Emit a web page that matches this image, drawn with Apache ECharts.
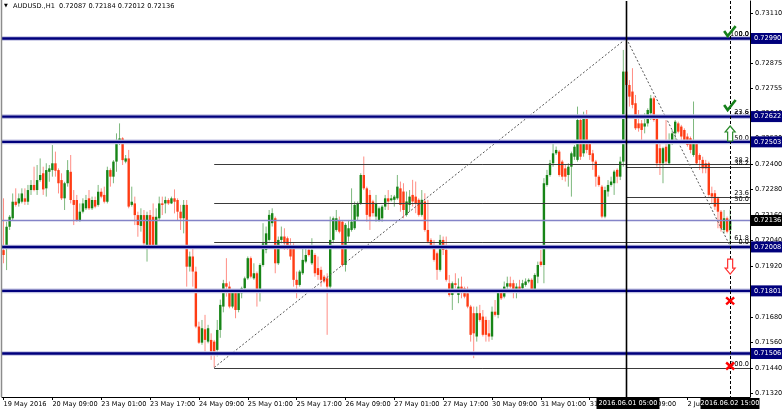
<!DOCTYPE html>
<html><head><meta charset="utf-8">
<script src="https://cdn.jsdelivr.net/npm/echarts@6/dist/echarts.min.js"></script>
<style>html,body{margin:0;padding:0;background:#fff}#c{width:782px;height:411px}</style>
</head><body><div id="c"></div>
<script>
const titleText = "AUDUSD.,H1  0.72087 0.72184 0.72012 0.72136";
const opens = [
.71993,.72001,.72103,.72143,.72221,.72213,.72221,.72237,.72221,.72276,
.72300,.72276,.72323,.72355,.72284,.72362,.72370,.72402,.72370,.72323,
.72237,.72308,.72362,.72229,.72229,.72135,.72174,.72190,.72237,.72190,
.72229,.72206,.72268,.72253,.72221,.72370,.72339,.72410,.72504,.72519,
.72410,.72425,.72206,.72213,.72158,.72107,.72158,.72009,.72158,.72150,
.72009,.72143,.72213,.72213,.72229,.72213,.72237,.72229,.72174,.72143,
.72206,
.71915,.71963,.71892,.71633,.71557,.71620,.71562,.71570,.71562,.71523,
.71617,.71727,.71837,.71821,.71727,.71798,.71711,.71790,.71813,.71860,
.71955,.71860,.71884,.71798,.71923,.71994,.72041,.72120,.72143,.71931,
.72041,.72057,.72049,.72010,.72002,.71853,.71829,.71884,.71939,.71994,
.71931,.71970,.71908,.71900,.71868,.71860,.71821,.72041,.72088,.72135,
.72127,.71923,.72057,.72088,.72096,.72151,.72214,.72347,.72284,.72253,
.72222,.72151,
.72135,.72143,.72198,.72237,.72228,.72230,.72237,.72284,.72269,.72159,
.72206,.72253,.72245,.72230,.72159,.72222,.72088,.72041,.72010,.71978,
.71900,.72041,.71994,.71837,.71782,.71837,.71782,.71821,.71813,.71790,
.71727,.71696,.71586,.71696,.71680,.71664,.71601,.71586,.71703,.71688,
.71798,.71774,.71821,.71837,.71837,.71806,.71821,.71813,.71829,.71845,
.71853,.71806,.71868,.71939,.71923,.72300,.72347,.72402,.72449,.72457,
.72410,.72378,.72347,.72386,.72433,.72418,.72606,.72449,.72614,.72496,
.72449,.72410,.72339,.72292,.72151,.72269,.72300,.72308,.72371,.72339,
.72410,.72834,.72771,.72740,.72685,.72590,.72590,.72575,.72590,.72638,
.72708,.72614,.72473,.72402,.72480,.72402,.72504,.72543,.72590,.72575,
.72559,.72528,.72520,.72441,.72496,.72441,.72418,.72402,.72402,.72261,
.72261,.72237,.72174,.72088,.72143,.72087];
const closes = [
.71970,.72103,.72150,.72221,.72206,.72237,.72260,.72221,.72276,.72300,
.72276,.72323,.72347,.72279,.72370,.72378,.72402,.72367,.72308,.72237,
.72308,.72370,.72229,.72206,.72135,.72174,.72213,.72229,.72190,.72229,
.72198,.72268,.72245,.72221,.72370,.72339,.72410,.72512,.72519,.72417,
.72425,.72198,.72221,.72158,.72111,.72158,.72025,.72158,.72017,.72017,
.72150,.72213,.72206,.72229,.72213,.72237,.72221,.72174,.72143,.72206,
.71915,
.71963,.71892,.71633,.71557,.71625,.71570,.71625,.71515,.71515,.71617,
.71735,.71837,.71821,.71727,.71798,.71711,.71798,.71813,.71860,.71955,
.71868,.71884,.71798,.71923,.72025,.72072,.72159,.72167,.71931,.72041,
.72057,.72025,.72002,.71963,.71853,.71829,.71892,.71947,.71970,.71970,
.71994,.71884,.71876,.71853,.71845,.71821,.72041,.72143,.72143,.72080,
.71923,.72112,.72096,.72127,.72206,.72214,.72347,.72284,.72159,.72151,
.72167,.72214,
.72190,.72198,.72237,.72222,.72237,.72245,.72292,.72206,.72182,.72222,
.72245,.72222,.72214,.72159,.72230,.72088,.72033,.72010,.71947,.71900,
.72041,.71994,.71853,.71782,.71837,.71829,.71821,.71806,.71774,.71727,
.71594,.71601,.71696,.71664,.71594,.71594,.71586,.71703,.71688,.71798,
.71766,.71821,.71837,.71821,.71806,.71821,.71806,.71837,.71845,.71853,
.71806,.71876,.71923,.71923,.72308,.72347,.72402,.72449,.72465,.72347,
.72339,.72339,.72386,.72449,.72480,.72606,.72433,.72622,.72465,.72441,
.72410,.72339,.72300,.72151,.72276,.72300,.72316,.72363,.72339,.72410,
.72834,.72771,.72716,.72677,.72567,.72567,.72559,.72590,.72653,.72708,
.72606,.72402,.72402,.72473,.72410,.72504,.72543,.72598,.72551,.72528,
.72512,.72488,.72465,.72496,.72402,.72418,.72378,.72378,.72253,.72245,
.72198,.72174,.72096,.72143,.72080,.72136];
const lows = [
.71931,.71899,.72088,.72135,.72198,.72198,.72213,.72206,.72206,.72253,
.72270,.72253,.72315,.72253,.72245,.72315,.72339,.72339,.72260,.72229,
.72182,.72292,.72213,.72111,.72127,.72127,.72166,.72182,.72182,.72182,
.72190,.72198,.72237,.72213,.72213,.72292,.72308,.72362,.72488,.72394,
.72402,.72190,.72198,.72111,.72056,.72080,.72017,.71939,.72009,.72009,
.72001,.72135,.72158,.72166,.72206,.72210,.72166,.72135,.72088,.72072,
.71821,
.71892,.71821,.71625,.71551,.71547,.71515,.71554,.71476,.71440,.71492,
.71580,.71700,.71774,.71719,.71719,.71672,.71700,.71766,.71806,.71853,
.71860,.71853,.71727,.71751,.71915,.71978,.72033,.72104,.71884,.71923,
.72025,.71994,.71994,.71947,.71821,.71766,.71821,.71876,.71931,.71963,
.71923,.71868,.71853,.71821,.71837,.71594,.71813,.72025,.72080,.72072,
.71915,.71892,.72033,.72080,.72088,.72135,.72206,.72276,.72127,.72088,
.72151,.72127,
.72127,.72127,.72182,.72182,.72222,.72198,.72230,.72174,.72143,.72151,
.72174,.72198,.72167,.72151,.72151,.72080,.72025,.72002,.71939,.71853,
.71892,.71970,.71845,.71774,.71711,.71813,.71743,.71766,.71766,.71719,
.71562,.71484,.71562,.71656,.71586,.71562,.71562,.71570,.71680,.71672,
.71758,.71766,.71806,.71813,.71766,.71766,.71790,.71806,.71821,.71837,
.71798,.71798,.71837,.71915,.71837,.72292,.72339,.72386,.72441,.72339,
.72323,.72316,.72292,.72245,.72418,.72410,.72418,.72433,.72449,.72418,
.72371,.72292,.72292,.72143,.72143,.72245,.72292,.72253,.72308,.72323,
.72386,.72763,.72669,.72661,.72559,.72551,.72512,.72543,.72575,.72606,
.72598,.72386,.72347,.72308,.72394,.72394,.72488,.72512,.72543,.72512,
.72496,.72480,.72449,.72433,.72394,.72371,.72355,.72355,.72245,.72214,
.72182,.72096,.72080,.72072,.72072,.72012];
const highs = [
.72237,.72127,.72158,.72260,.72284,.72260,.72284,.72284,.72300,.72323,
.72386,.72394,.72425,.72386,.72402,.72394,.72488,.72457,.72378,.72355,
.72315,.72417,.72441,.72276,.72253,.72213,.72237,.72253,.72276,.72245,
.72245,.72300,.72284,.72292,.72386,.72378,.72417,.72543,.72590,.72525,
.72441,.72465,.72292,.72245,.72174,.72190,.72182,.72174,.72182,.72213,
.72190,.72245,.72245,.72245,.72237,.72245,.72279,.72237,.72206,.72229,
.72229,
.71986,.72017,.71915,.71656,.71664,.71688,.71641,.71601,.71570,.71664,
.71760,.71853,.71955,.71845,.71806,.71806,.71806,.71821,.71868,.71963,
.71963,.71931,.71892,.71931,.72120,.72104,.72182,.72190,.72151,.72057,
.72104,.72096,.72057,.72049,.72025,.71892,.71900,.72010,.72017,.72017,
.72049,.71978,.71963,.71915,.71876,.71884,.72151,.72151,.72182,.72151,
.72135,.72120,.72135,.72284,.72222,.72222,.72355,.72434,.72292,.72276,
.72230,.72253,
.72198,.72206,.72253,.72276,.72253,.72253,.72347,.72316,.72308,.72269,
.72276,.72324,.72316,.72237,.72276,.72261,.72230,.72049,.72041,.71986,
.72065,.72057,.72057,.71876,.71845,.71884,.71860,.71868,.71821,.71821,
.71735,.71727,.71727,.71735,.71711,.71680,.71664,.71727,.71758,.71806,
.71806,.71845,.71868,.71868,.71853,.71837,.71853,.71853,.71860,.71860,
.71860,.71884,.71939,.71994,.72332,.72371,.72418,.72496,.72481,.72465,
.72418,.72394,.72402,.72457,.72488,.72669,.72614,.72645,.72653,.72512,
.72465,.72418,.72347,.72300,.72292,.72323,.72339,.72371,.72378,.72433,
.72936,.72990,.72794,.72850,.72724,.72653,.72606,.72638,.72661,.72724,
.72716,.72622,.72496,.72480,.72606,.72543,.72559,.72606,.72598,.72583,
.72567,.72543,.72528,.72693,.72504,.72449,.72433,.72418,.72410,.72292,
.72276,.72245,.72182,.72182,.72151,.72184];
const slotCount = 245;
const xTickLabels = ["19 May 2016","20 May 09:00","23 May 01:00","23 May 17:00","24 May 09:00","25 May 01:00","25 May 17:00","26 May 09:00","27 May 01:00","27 May 17:00","30 May 09:00","31 May 01:00","31 May 17:00","1 Jun 09:00","2 Jun 01:00"];
const xTickStep = 16;
const yTickValues = [0.73110,0.72990,0.72875,0.72755,0.72640,0.72520,0.72400,0.72280,0.72160,0.72040,0.71920,0.71800,0.71680,0.71560,0.71440,0.71320];
const levelPrices = [0.72990,0.72622,0.72503,0.72008,0.71801,0.71506];
const bidPrice = 0.72136;
const fib1Anchor = [69, 0.71440, 204, 0.72990];
const fib2Anchor = [204, 0.72990, 238, 0.72012];
const fibLevels = [0, 23.6, 38.2, 50, 61.8, 100];
const vLineIdx = [204, 238];
const vLineLabels = ["2016.06.01 05:00", "2016.06.02 15:00"];
const signalIdx = [238,238,238,238,238,238];
const signalPrices = [0.73020,0.72672,0.72540,0.71918,0.71754,0.71447];
const signalTypes = ["check","check","up","down","cross","cross"];

const FONT = "DejaVu Sans";
const FS = 6.6;
const font = FS + "px '" + FONT + "'";

const chart = echarts.init(document.getElementById('c'), null, {renderer:'canvas'});
const cats = Array.from({length: slotCount}, (_, i) => String(i));
const candleData = opens.map((o, i) => [i, o, closes[i], lows[i], highs[i]]);

function candleItem(params, api) {
  const i = api.value(0), o = api.value(1), c = api.value(2), l = api.value(3), h = api.value(4);
  const pO = api.coord([i, o]), pC = api.coord([i, c]), pL = api.coord([i, l]), pH = api.coord([i, h]);
  const x = pO[0];
  const bull = c >= o;
  const top = Math.min(pO[1], pC[1]), bot = Math.max(pO[1], pC[1]);
  return {type:'group', children:[
    {type:'line', shape:{x1:x, y1:pH[1], x2:x, y2:pL[1]}, style:{stroke: bull ? '#7db87d' : '#ff8d84', lineWidth:1}},
    {type:'rect', shape:{x:x-1.2, y:top, width:2.4, height:Math.max(bot-top, 1)}, style:{fill: bull ? '#178517' : '#ff3c14'}}
  ]};
}
function levelItem(params, api) {
  const cs = params.coordSys;
  const v = api.value(1);
  const y = api.coord([0, v])[1];
  const r = cs.x + cs.width;
  return {type:'group', children:[
    {type:'line', shape:{x1:cs.x, y1:y, x2:r, y2:y}, style:{stroke:'#c0c0e2', lineWidth:4.6}},
    {type:'line', shape:{x1:cs.x, y1:y, x2:r, y2:y}, style:{stroke:'#00007c', lineWidth:2.4}},
    {type:'rect', shape:{x:r+1, y:y-5.5, width:31, height:11}, style:{fill:'#00007c'}},
    {type:'text', x:r+4, y:y, style:{text:v.toFixed(5), fill:'#fff', font:font, textVerticalAlign:'middle'}}
  ]};
}
function yTickItem(params, api) {
  const cs = params.coordSys;
  const v = api.value(1);
  const y = Math.round(api.coord([0, v])[1]) + 0.5;
  const r = cs.x + cs.width;
  return {type:'group', children:[
    {type:'line', shape:{x1:r, y1:y, x2:r+3, y2:y}, style:{stroke:'#000', lineWidth:1}},
    {type:'text', x:r+5, y:y, style:{text:v.toFixed(5), fill:'#000', font:font, textVerticalAlign:'middle'}}
  ]};
}
function bidItem(params, api) {
  const cs = params.coordSys;
  const v = api.value(1);
  const y = Math.round(api.coord([0, v])[1]) + 0.5;
  const r = cs.x + cs.width;
  return {type:'group', children:[
    {type:'line', shape:{x1:cs.x, y1:y, x2:r, y2:y}, style:{stroke:'#8484c8', lineWidth:1.4}},
    {type:'rect', shape:{x:r+1, y:y-5.5, width:31, height:11}, style:{fill:'#000'}},
    {type:'text', x:r+4, y:y, style:{text:v.toFixed(5), fill:'#fff', font:font, textVerticalAlign:'middle'}}
  ]};
}
const fibData = [];
[fib1Anchor, fib2Anchor].forEach((f, k) => {
  fibLevels.forEach(L => {
    fibData.push([Math.min(f[0], f[2]), f[3] + (f[1] - f[3]) * L / 100, L, k]);
  });
});
function fibItem(params, api) {
  const cs = params.coordSys;
  const p = api.coord([api.value(0), api.value(1)]);
  const y = Math.round(p[1]) + 0.5;
  const r = cs.x + cs.width;
  return {type:'group', children:[
    {type:'line', shape:{x1:p[0], y1:y, x2:r, y2:y}, style:{stroke:'#3a3a3a', lineWidth:1}},
    {type:'text', x:r-1, y:y-1, style:{text:api.value(2).toFixed(1), fill:'#000', font:font, textAlign:'right', textVerticalAlign:'bottom'}}
  ]};
}
const diagData = [fib1Anchor, fib2Anchor];
function diagItem(params, api) {
  const a = api.coord([api.value(0), api.value(1)]);
  const b = api.coord([api.value(2), api.value(3)]);
  return {type:'line', shape:{x1:a[0], y1:a[1], x2:b[0], y2:b[1]}, style:{stroke:'#555', lineWidth:1, lineDash:[2,2]}};
}
const vData = vLineIdx.map((v, k) => [v, k]);
function vItem(params, api) {
  const cs = params.coordSys;
  const k = api.value(1);
  const x = Math.round(api.coord([api.value(0), 0.72])[0]) + 0.5;
  const solid = k === 0;
  const bottom = cs.y + cs.height;
  return {type:'group', children:[
    {type:'line', shape:{x1:x, y1:cs.y, x2:x, y2:bottom + (solid ? 0 : 10)}, style:{stroke:'#000', lineWidth: solid ? 1.6 : 1, lineDash: solid ? null : [3,2]}},
    {type:'rect', shape:{x:x-30, y:bottom+1, width: solid ? 63 : 59, height:11}, style:{fill:'#000'}},
    {type:'text', x:x+ (solid ? 1.5 : -0.5), y:bottom+6.5, style:{text:vLineLabels[k], fill:'#fff', font:font, textAlign:'center', textVerticalAlign:'middle'}}
  ]};
}
const sigData = signalPrices.map((p, k) => [signalIdx[k], p, k]);
function sigItem(params, api) {
  const k = api.value(2);
  const pt = api.coord([api.value(0), api.value(1)]);
  const x = pt[0], y = pt[1];
  const t = signalTypes[k];
  if (t === 'check') {
    return {type:'polyline', shape:{points:[[x-6, y-1], [x-2.5, y+4], [x+5.5, y-6]]},
      style:{stroke:'#15801a', lineWidth:2.6, fill:null, lineJoin:'miter'}};
  }
  if (t === 'up' || t === 'down') {
    const s = t === 'up' ? 1 : -1;
    const pts = [[x, y-8*s], [x+5, y-2*s], [x+2.5, y-2*s], [x+2.5, y+7*s], [x-2.5, y+7*s], [x-2.5, y-2*s], [x-5, y-2*s]];
    return {type:'polygon', shape:{points:pts},
      style:{stroke: t === 'up' ? '#2a8a2a' : '#ff3030', lineWidth:1.2, fill:'#fff'}};
  }
  return {type:'group', children:[
    {type:'line', shape:{x1:x-4, y1:y-3.5, x2:x+4, y2:y+3.5}, style:{stroke:'#ff0000', lineWidth:2.4}},
    {type:'line', shape:{x1:x-4, y1:y+3.5, x2:x+4, y2:y-3.5}, style:{stroke:'#ff0000', lineWidth:2.4}}
  ]};
}

chart.setOption({
  animation: false,
  backgroundColor: '#fff',
  grid: {left: 2, right: 32, top: 1, bottom: 14, containLabel: false},
  xAxis: {
    type: 'category', data: cats, boundaryGap: true,
    axisLine: {show: true, lineStyle: {color: '#000', width: 1}},
    axisTick: {show: true, interval: xTickStep - 1, alignWithLabel: true, length: 3, lineStyle: {color: '#000'}},
    axisLabel: {
      interval: xTickStep - 1, align: 'left', margin: 4, fontSize: FS, fontFamily: FONT, color: '#000',
      formatter: (v, idx) => (idx % xTickStep === 0 && xTickLabels[idx / xTickStep]) ? xTickLabels[idx / xTickStep] : ''
    },
    splitLine: {show: false}
  },
  yAxis: {
    type: 'value', position: 'right', min: 0.713011, max: 0.731665, scale: true,
    axisLine: {show: true, lineStyle: {color: '#000', width: 1}},
    axisTick: {show: false}, axisLabel: {show: false}, splitLine: {show: false}
  },
  graphic: [
    {type: 'line', shape: {x1: 1.5, y1: 0, x2: 1.5, y2: 397}, style: {stroke: '#8c8c8c', lineWidth: 1.5}, z: 10},
    {type: 'text', left: 4, top: 3, style: {text: '\u25BC', font: "5px 'DejaVu Sans'", fill: '#000'}, z: 10},
    {type: 'text', left: 13, top: 3, style: {text: titleText, font: font, fill: '#000'}, z: 10}
  ],
  series: [
    {type: 'custom', name: 'yticks', data: yTickValues.map(v => [0, v]), renderItem: yTickItem, clip: false, z: 1, silent: true},
    {type: 'custom', name: 'candles', data: candleData, renderItem: candleItem, clip: true, z: 2, silent: true},
    {type: 'custom', name: 'fib', data: fibData, renderItem: fibItem, clip: false, z: 3, silent: true},
    {type: 'custom', name: 'diag', data: diagData, renderItem: diagItem, clip: false, z: 3, silent: true},
    {type: 'custom', name: 'bid', data: [[0, bidPrice]], renderItem: bidItem, clip: false, z: 3, silent: true},
    {type: 'custom', name: 'levels', data: levelPrices.map(v => [0, v]), renderItem: levelItem, clip: false, z: 4, silent: true},
    {type: 'custom', name: 'vlines', data: vData, renderItem: vItem, clip: false, z: 5, silent: true},
    {type: 'custom', name: 'signals', data: sigData, renderItem: sigItem, clip: false, z: 6, silent: true}
  ]
});
</script>
</body></html>
